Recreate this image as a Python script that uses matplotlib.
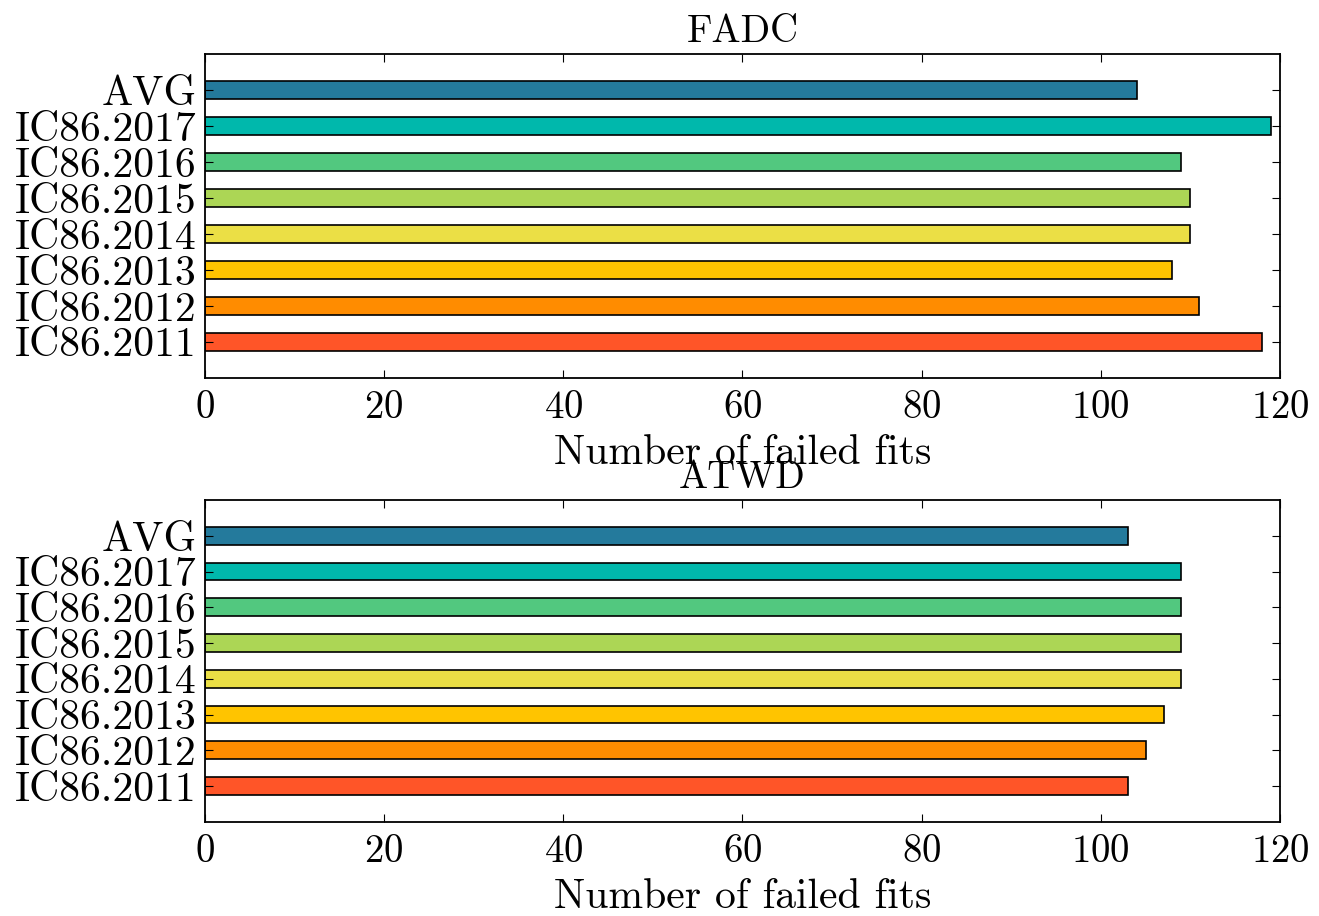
import matplotlib
matplotlib.use('Agg')
import matplotlib.pyplot as plt
import numpy as np

labels = ['IC86.2011', 'IC86.2012', 'IC86.2013', 'IC86.2014', 'IC86.2015',
          'IC86.2016', 'IC86.2017', 'AVG']
fadc = [118, 111, 108, 110, 110, 109, 119, 104]
atwd = [103, 105, 107, 109, 109, 109, 109, 103]
cores = ['#ff5528', '#ff8c00', '#ffc400', '#ebdf45', '#acd655',
         '#52c87f', '#00b8ac', '#247a9c']

plt.rcParams['font.family'] = 'serif'
plt.rcParams['font.serif'] = ['cmr10']
plt.rcParams['axes.formatter.use_mathtext'] = True

fig = plt.figure(figsize=(13.19, 9.16), dpi=100)
ax1 = fig.add_axes([0.1554, 0.5877, 0.815, 0.3531])
ax2 = fig.add_axes([0.1554, 0.1029, 0.815, 0.3512])

pos = np.arange(len(labels))
for ax, vals, titulo in [(ax1, fadc, 'FADC'), (ax2, atwd, 'ATWD')]:
    ax.barh(pos, vals, height=0.5, color=cores, edgecolor='black', linewidth=1.2)
    ax.set_yticks(pos)
    ax.set_yticklabels(labels, fontsize=30)
    ax.set_ylim(-1, 8)
    ax.set_xlim(0, 120)
    ax.set_xticks([0, 20, 40, 60, 80, 100, 120])
    ax.set_xlabel('Number of failed fits', fontsize=30, labelpad=6)
    ax.set_title(titulo, fontsize=28, pad=9)
    ax.tick_params(direction='in', top=True, right=True, length=6, width=0.8)
    ax.tick_params(axis='x', labelsize=28, pad=9)
    ax.tick_params(axis='y', pad=6)
    for s in ax.spines.values():
        s.set_linewidth(1.3)

fig.savefig('out.png', dpi=100)
